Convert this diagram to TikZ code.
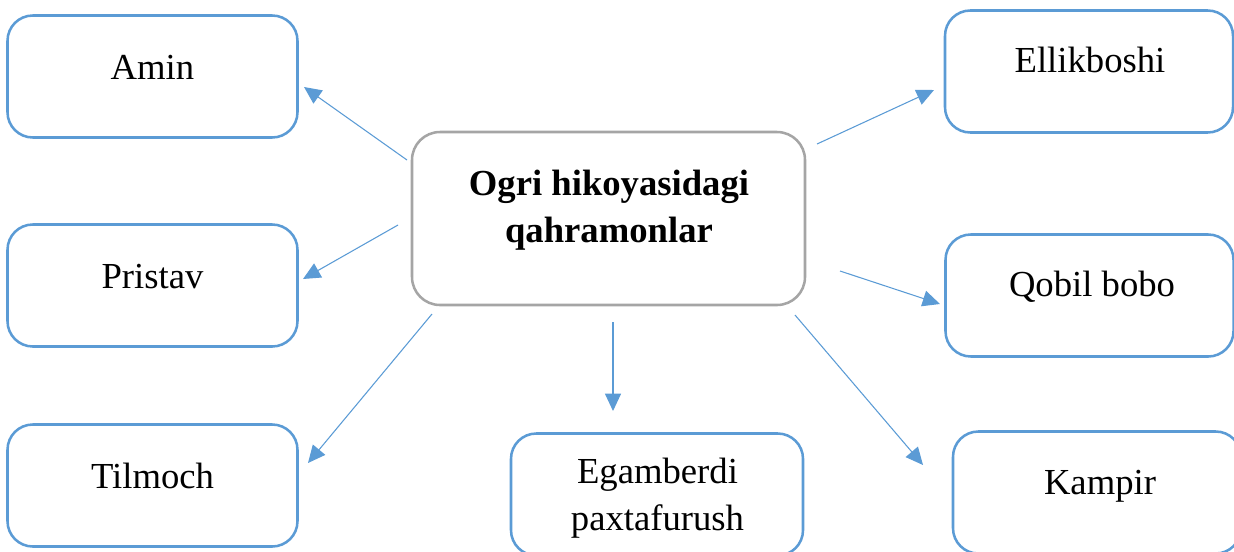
\documentclass[tikz,border=0pt]{standalone}
\usepackage{fontspec}
\setmainfont{Liberation Serif}
\usetikzlibrary{arrows.meta}

\begin{document}
\begin{tikzpicture}[x=0.75pt,y=0.75pt,yscale=-1,xscale=1,
  hero/.style={draw={rgb,255:red,91;green,155;blue,213},line width=1.9pt,rounded corners=19pt,
    minimum width=290*0.75pt,minimum height=122*0.75pt,inner sep=0pt},
  tale/.style={draw={rgb,255:red,165;green,165;blue,165},line width=1.9pt,rounded corners=21pt,
    minimum width=393*0.75pt,minimum height=173*0.75pt,inner sep=0pt},
  lbl/.style={anchor=base,inner sep=0pt,font=\fontsize{27.5}{35.25}\selectfont,align=center},
  link/.style={draw={rgb,255:red,91;green,155;blue,213},line width=0.8pt,
    -{Triangle[length=13pt,width=12pt]}}]
\useasboundingbox (0,0) rectangle (1234,551);

%Rounded Rect [centre]
\node[tale] (tale) at (608.5,218.5) {};
%Rounded Rect [left column]
\node[hero] (amin) at (152.5,76.5) {};
\node[hero] (pristav) at (152.5,285.5) {};
\node[hero] (tilmoch) at (152.5,485.5) {};
%Rounded Rect [bottom]
\node[hero,minimum width=292*0.75pt] (egam) at (657,494.5) {};
%Rounded Rect [right column]
\node[hero,minimum width=288*0.75pt] (ellik) at (1089,71.5) {};
\node[hero,minimum width=288*0.75pt] (qobil) at (1089.5,295.5) {};
\node[hero,minimum width=288*0.75pt] (kampir) at (1097,492.5) {};

% Text Node (base = last line)
\node[lbl,font=\fontsize{27.5}{35.25}\selectfont\bfseries] (tale-t) at (609,242) {Ogri hikoyasidagi\\qahramonlar};
% Text Node
\node[lbl] (amin-t) at (152.5,79) {Amin};
% Text Node
\node[lbl] (pristav-t) at (152.5,288) {Pristav};
% Text Node
\node[lbl] (tilmoch-t) at (152.5,488) {Tilmoch};
% Text Node (base = last line)
\node[lbl] (egam-t) at (657.5,530) {Egamberdi\\paxtafurush};
% Text Node
\node[lbl] (ellik-t) at (1090,72) {Ellikboshi};
% Text Node
\node[lbl] (qobil-t) at (1092,296) {Qobil bobo};
% Text Node
\node[lbl] (kampir-t) at (1100,494) {Kampir};

%Arrow ends
\coordinate (s-amin) at (407,160);   \coordinate (e-amin) at (304,87);
\coordinate (s-pristav) at (398,225); \coordinate (e-pristav) at (303,279);
\coordinate (s-tilmoch) at (432,314); \coordinate (e-tilmoch) at (308,463);
\coordinate (s-egam) at (613,322);   \coordinate (e-egam) at (613,411);
\coordinate (s-kampir) at (795,315); \coordinate (e-kampir) at (923,465);
\coordinate (s-qobil) at (840,271);  \coordinate (e-qobil) at (940,304);
\coordinate (s-ellik) at (817,144);  \coordinate (e-ellik) at (934,90);

%Straight Lines
\foreach \who in {amin,pristav,tilmoch,egam,kampir,qobil,ellik}
  \draw[link] (s-\who) -- (e-\who);

\end{tikzpicture}
\end{document}
